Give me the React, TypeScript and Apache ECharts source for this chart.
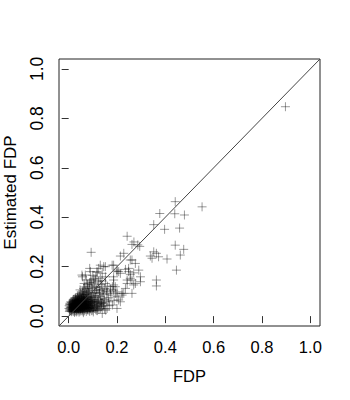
import React, { useEffect, useRef } from "react";
import * as echarts from "echarts";

const tickValues = [0, 0.2, 0.4, 0.6, 0.8, 1.0];
const xTitle = "FDP";
const yTitle = "Estimated FDP";

// dense core (FDP, Estimated FDP)
const corePoints: number[][] = [
  [0.012, 0.018], [0.024, 0.015], [0.031, 0.021], [0.043, 0.016], [0.052, 0.022], [0.061, 0.014], [0.073, 0.019], [0.084, 0.024], [0.102, 0.017],
  [0.004, 0.024], [0.017, 0.027], [0.027, 0.023], [0.036, 0.029], [0.047, 0.025], [0.058, 0.03], [0.066, 0.024], [0.091, 0.029], [0.118, 0.022],
  [0.001, 0.031], [0.009, 0.028], [0.021, 0.033], [0.033, 0.026], [0.041, 0.032], [0.049, 0.029], [0.062, 0.034], [0.071, 0.027], [0.079, 0.032], [0.088, 0.036], [0.112, 0.026],
  [0.006, 0.037], [0.014, 0.034], [0.026, 0.038], [0.037, 0.035], [0.044, 0.04], [0.056, 0.036], [0.064, 0.041], [0.076, 0.037], [0.098, 0.033], [0.131, 0.031],
  [0.002, 0.042], [0.011, 0.04], [0.019, 0.044], [0.031, 0.041], [0.039, 0.045], [0.052, 0.042], [0.059, 0.047], [0.069, 0.043], [0.082, 0.041], [0.093, 0.045], [0.121, 0.036],
  [0.007, 0.048], [0.016, 0.051], [0.024, 0.046], [0.034, 0.05], [0.046, 0.048], [0.054, 0.052], [0.067, 0.049], [0.086, 0.051], [0.106, 0.043], [0.142, 0.041],
  [0.011, 0.054], [0.022, 0.056], [0.029, 0.052], [0.041, 0.055], [0.049, 0.053], [0.061, 0.057], [0.072, 0.054], [0.081, 0.058], [0.101, 0.053], [0.128, 0.046],
  [0.017, 0.061], [0.026, 0.063], [0.036, 0.059], [0.044, 0.062], [0.057, 0.06], [0.066, 0.064], [0.077, 0.061], [0.096, 0.059], [0.115, 0.056],
  [0.021, 0.068], [0.033, 0.066], [0.042, 0.07], [0.051, 0.067], [0.063, 0.071], [0.071, 0.069], [0.089, 0.067], [0.109, 0.063], [0.138, 0.055],
  [0.028, 0.075], [0.038, 0.078], [0.047, 0.074], [0.056, 0.079], [0.068, 0.076], [0.079, 0.08], [0.097, 0.074], [0.124, 0.067],
  [0.043, 0.085], [0.053, 0.088], [0.062, 0.084], [0.074, 0.089], [0.087, 0.086], [0.104, 0.082],
  [0.014, 0.022], [0.038, 0.021], [0.056, 0.027], [0.029, 0.031], [0.045, 0.036], [0.068, 0.038], [0.019, 0.039], [0.034, 0.044], [0.058, 0.045],
  [0.025, 0.05], [0.041, 0.051], [0.063, 0.052], [0.032, 0.057], [0.052, 0.058], [0.074, 0.047], [0.039, 0.064], [0.048, 0.031], [0.083, 0.029],
  [0.003, 0.019], [0.008, 0.035], [0.015, 0.029], [0.022, 0.024], [0.028, 0.043], [0.035, 0.038], [0.042, 0.027], [0.051, 0.039], [0.057, 0.021],
  [0.065, 0.031], [0.078, 0.025], [0.087, 0.019], [0.094, 0.038], [0.108, 0.031], [0.117, 0.045], [0.125, 0.028], [0.135, 0.038], [0.148, 0.029],
  [0.005, 0.052], [0.013, 0.047], [0.023, 0.059], [0.031, 0.064], [0.038, 0.054], [0.046, 0.059], [0.055, 0.065], [0.061, 0.049], [0.069, 0.058],
  [0.076, 0.066], [0.084, 0.053], [0.091, 0.062], [0.099, 0.048], [0.107, 0.057], [0.113, 0.038], [0.122, 0.051], [0.132, 0.061], [0.145, 0.052],
  [0.009, 0.058], [0.018, 0.065], [0.027, 0.07], [0.035, 0.072], [0.044, 0.079], [0.053, 0.073], [0.06, 0.081], [0.067, 0.07], [0.075, 0.075],
  [0.083, 0.072], [0.092, 0.079], [0.101, 0.068], [0.111, 0.075], [0.119, 0.059], [0.036, 0.083], [0.049, 0.091], [0.058, 0.095], [0.066, 0.088],
  [0.08, 0.094], [0.095, 0.091], [0.071, 0.1], [0.012, 0.025], [0.026, 0.018], [0.039, 0.025], [0.053, 0.034], [0.064, 0.044], [0.073, 0.035],
  [0.081, 0.046], [0.089, 0.031], [0.1, 0.024], [0.017, 0.044], [0.03, 0.036], [0.044, 0.044], [0.054, 0.046], [0.068, 0.055], [0.035, 0.063],
  [0.008, 0.021], [0.019, 0.019], [0.033, 0.017], [0.047, 0.02], [0.063, 0.02], [0.077, 0.028], [0.095, 0.022], [0.005, 0.029], [0.023, 0.029],
  [0.039, 0.031], [0.054, 0.031], [0.069, 0.033], [0.085, 0.034], [0.103, 0.036], [0.012, 0.036], [0.027, 0.034], [0.043, 0.036], [0.061, 0.039],
  [0.074, 0.042], [0.089, 0.042], [0.004, 0.046], [0.021, 0.048], [0.037, 0.047], [0.049, 0.046], [0.064, 0.048], [0.079, 0.05], [0.094, 0.055],
  [0.014, 0.056], [0.033, 0.054], [0.048, 0.057], [0.059, 0.062], [0.073, 0.059], [0.088, 0.061], [0.028, 0.061], [0.041, 0.067], [0.061, 0.074],
];

// moderately dense band
const midPoints: number[][] = [
  [0.057, 0.159], [0.091, 0.146], [0.112, 0.159], [0.139, 0.173], [0.153, 0.132], [0.181, 0.119], [0.194, 0.092],
  [0.09, 0.18], [0.069, 0.166], [0.145, 0.2], [0.124, 0.193], [0.18, 0.206], [0.2, 0.18], [0.214, 0.173],
  [0.11, 0.146], [0.131, 0.153], [0.152, 0.159], [0.186, 0.126], [0.2, 0.098], [0.221, 0.092], [0.172, 0.098],
  [0.159, 0.092], [0.055, 0.166], [0.167, 0.058], [0.181, 0.045], [0.2, 0.031], [0.153, 0.024], [0.139, 0.011],
  [0.2, 0.078], [0.145, 0.045], [0.159, 0.031], [0.117, 0.024], [0.072, 0.108], [0.085, 0.121], [0.098, 0.112],
  [0.104, 0.134], [0.118, 0.118], [0.127, 0.104], [0.134, 0.128], [0.142, 0.098], [0.078, 0.128], [0.066, 0.118],
  [0.093, 0.138], [0.113, 0.096], [0.123, 0.141], [0.148, 0.112], [0.161, 0.121], [0.106, 0.094], [0.131, 0.079],
  [0.165, 0.074], [0.175, 0.085], [0.188, 0.064], [0.149, 0.067], [0.121, 0.084], [0.136, 0.052], [0.058, 0.101],
  [0.082, 0.097], [0.047, 0.106], [0.064, 0.132], [0.1, 0.165], [0.118, 0.178], [0.087, 0.193], [0.117, 0.179],
  [0.131, 0.206], [0.152, 0.2], [0.073, 0.146], [0.079, 0.113], [0.088, 0.104], [0.096, 0.126], [0.108, 0.116],
  [0.115, 0.106], [0.126, 0.118], [0.138, 0.108], [0.145, 0.088], [0.156, 0.102], [0.128, 0.092], [0.138, 0.072],
  [0.158, 0.062], [0.168, 0.042], [0.173, 0.109], [0.104, 0.151], [0.086, 0.134], [0.138, 0.142], [0.062, 0.112],
];

// sparse points
const sparsePoints: number[][] = [
  [0.897, 0.847], [0.552, 0.442], [0.441, 0.463], [0.377, 0.415], [0.439, 0.414], [0.479, 0.409], [0.352, 0.37],
  [0.397, 0.351], [0.459, 0.356], [0.242, 0.323], [0.262, 0.29], [0.286, 0.288], [0.294, 0.282], [0.27, 0.3],
  [0.093, 0.258], [0.228, 0.254], [0.214, 0.243], [0.441, 0.287], [0.476, 0.27], [0.462, 0.247], [0.352, 0.26],
  [0.363, 0.254], [0.338, 0.243], [0.372, 0.24], [0.345, 0.234], [0.407, 0.231], [0.446, 0.186], [0.363, 0.146],
  [0.363, 0.122], [0.255, 0.227], [0.276, 0.213], [0.262, 0.227], [0.248, 0.193], [0.269, 0.175], [0.29, 0.186],
  [0.235, 0.189], [0.248, 0.18], [0.255, 0.169], [0.297, 0.159], [0.262, 0.146], [0.297, 0.139], [0.269, 0.126],
  [0.276, 0.132], [0.242, 0.146], [0.255, 0.153], [0.242, 0.132], [0.235, 0.112], [0.262, 0.092], [0.228, 0.092],
  [0.2, 0.186], [0.186, 0.159], [0.193, 0.119], [0.221, 0.085], [0.207, 0.065], [0.214, 0.058], [0.186, 0.146],
  [0.186, 0.105], [0.207, 0.18], [0.186, 0.206],
];

const CROSS = "path://M5 0L5 10M0 5L10 5";

export default function App() {
  const ref = useRef<HTMLDivElement>(null);
  useEffect(() => {
    if (!ref.current) return;
    const chart = echarts.init(ref.current, undefined, { renderer: "svg" });
    const font = "'Liberation Sans', Arial, sans-serif";
    const allPoints = [...corePoints, ...midPoints, ...sparsePoints];
    const axisCommon = {
      type: "value" as const,
      min: -0.04,
      max: 1.04,
      splitLine: { show: false },
      axisLine: { show: false },
      axisTick: {
        show: true,
        length: 7,
        lineStyle: { color: "#333", width: 1 },
        customValues: tickValues,
      },
      nameLocation: "middle" as const,
    };
    chart.setOption({
      animation: false,
      grid: {
        left: 59,
        right: 30,
        top: 59,
        bottom: 74,
        containLabel: false,
        outerBoundsMode: "none",
        show: true,
        borderColor: "#222",
        borderWidth: 1,
        backgroundColor: "transparent",
      },
      xAxis: {
        ...axisCommon,
        name: xTitle,
        nameGap: 41,
        nameTextStyle: { fontFamily: font, fontSize: 16.5, color: "#000" },
        axisLabel: {
          customValues: tickValues,
          formatter: (v: number) => v.toFixed(1),
          fontFamily: font,
          fontSize: 16.5,
          color: "#000",
          margin: 12,
        },
      },
      yAxis: {
        ...axisCommon,
        name: yTitle,
        nameGap: 40,
        nameTextStyle: { fontFamily: font, fontSize: 17, color: "#000" },
        axisLabel: {
          customValues: tickValues,
          formatter: (v: number) => v.toFixed(1),
          fontFamily: font,
          fontSize: 17.5,
          color: "#000",
          rotate: 90,
          margin: 13,
        },
      },
      series: [
        {
          type: "line",
          data: [
            [-0.04, -0.04],
            [1.04, 1.04],
          ],
          showSymbol: false,
          symbol: "none",
          lineStyle: { color: "#444", width: 1 },
          silent: true,
        },
        {
          type: "scatter",
          data: allPoints,
          symbol: CROSS,
          symbolSize: 9,
          itemStyle: {
            color: "rgba(0,0,0,0)",
            borderColor: "rgba(0,0,0,0.5)",
            borderWidth: 1,
          },
          silent: true,
        },
      ],
    });
    return () => chart.dispose();
  }, []);
  return (
    <div
      ref={ref}
      style={{ position: "fixed", left: 0, top: 0, width: 350, height: 400, background: "#fff" }}
    />
  );
}
